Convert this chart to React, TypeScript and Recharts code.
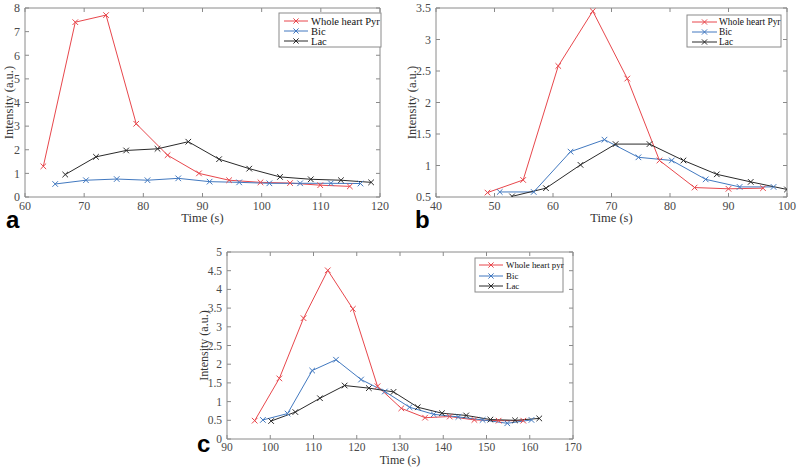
import React from 'react';
import { LineChart, Line, XAxis, YAxis, Label } from 'recharts';

// ---------- Panel a ----------
const aPyrTime = [63.1, 68.5, 73.7, 78.8, 84.1, 89.4, 94.5, 99.8, 104.8, 109.9, 114.9];
const aPyrVal = [1.3, 7.4, 7.7, 3.1, 1.77, 1.0, 0.71, 0.62, 0.59, 0.5, 0.45];
const aBicTime = [65.1, 70.3, 75.5, 80.7, 85.9, 91.2, 96.2, 101.3, 106.5, 111.7, 116.7];
const aBicVal = [0.55, 0.71, 0.76, 0.71, 0.79, 0.65, 0.62, 0.58, 0.58, 0.58, 0.57];
const aLacTime = [66.8, 72.0, 77.1, 82.4, 87.6, 92.8, 97.9, 103.1, 108.3, 113.4, 118.5];
const aLacVal = [0.95, 1.7, 1.97, 2.04, 2.34, 1.6, 1.2, 0.85, 0.75, 0.71, 0.62];
const aXTicks = [60, 70, 80, 90, 100, 110, 120];
const aYTicks = [0, 1, 2, 3, 4, 5, 6, 7, 8];
const aLegend = ['Whole heart Pyr', 'Bic', 'Lac'];

// ---------- Panel b ----------
const bPyrTime = [48.8, 54.9, 60.9, 66.8, 72.7, 78.2, 84.2, 90.0, 95.9];
const bPyrVal = [0.57, 0.77, 2.58, 3.45, 2.38, 1.08, 0.65, 0.63, 0.64];
const bBicTime = [50.9, 56.7, 63.0, 68.8, 74.6, 80.3, 86.1, 91.9, 97.7];
const bBicVal = [0.58, 0.58, 1.22, 1.41, 1.13, 1.08, 0.78, 0.66, 0.66];
const bLacTime = [53.0, 58.8, 64.7, 70.7, 76.5, 82.3, 88.0, 93.8, 100.0];
const bLacVal = [0.51, 0.64, 1.01, 1.34, 1.34, 1.08, 0.86, 0.74, 0.62];
const bXTicks = [40, 50, 60, 70, 80, 90, 100];
const bYTicks = [0.5, 1, 1.5, 2, 2.5, 3, 3.5];
const bLegend = ['Whole heart Pyr', 'Bic', 'Lac'];

// ---------- Panel c ----------
const cPyrTime = [96.4, 102.1, 107.7, 113.3, 119.1, 124.8, 130.3, 135.8, 141.5, 147.2, 152.8, 158.5];
const cPyrVal = [0.49, 1.62, 3.23, 4.51, 3.48, 1.41, 0.82, 0.57, 0.6, 0.51, 0.49, 0.49];
const cBicTime = [98.3, 104.0, 109.7, 115.2, 121.0, 126.5, 132.2, 137.8, 143.5, 149.1, 154.8, 160.4];
const cBicVal = [0.51, 0.68, 1.83, 2.12, 1.59, 1.27, 0.85, 0.66, 0.59, 0.51, 0.42, 0.51];
const cLacTime = [100.2, 105.8, 111.5, 117.2, 122.8, 128.5, 134.1, 139.7, 145.3, 150.9, 156.6, 162.2];
const cLacVal = [0.48, 0.72, 1.09, 1.43, 1.36, 1.26, 0.85, 0.69, 0.63, 0.52, 0.5, 0.55];
const cXTicks = [90, 100, 110, 120, 130, 140, 150, 160, 170];
const cYTicks = [0, 0.5, 1, 1.5, 2, 2.5, 3, 3.5, 4, 4.5, 5];
const cLegend = ['Whole heart pyr', 'Bic', 'Lac'];

const RED = '#e8474c';
const BLUE = '#4279c0';
const BLACK = '#2a2a2a';
const AXIS = '#8a8a8a';
const TICKTEXT = '#4a4a4a';
const SERIF = '"Liberation Serif", "Times New Roman", serif';

const toPoints = (ts: number[], vs: number[]) => ts.map((t, i) => ({ t, v: vs[i] }));

const makeCross = (color: string) => (props: any) => {
  const { cx, cy, index } = props;
  if (cx == null || cy == null) return <g key={`n${index}`} />;
  const s = 2.8;
  return (
    <path
      key={`c${index}`}
      d={`M${cx - s},${cy - s}L${cx + s},${cy + s}M${cx - s},${cy + s}L${cx + s},${cy - s}`}
      stroke={color}
      strokeWidth={1}
      fill="none"
    />
  );
};

type PanelProps = {
  left: number; top: number; width: number; height: number;
  margin: { top: number; right: number; left: number; bottom: number };
  yAxisWidth: number; xAxisHeight: number;
  xDomain: [number, number]; xTicks: number[];
  yDomain: [number, number]; yTicks: number[];
  series: { data: { t: number; v: number }[]; color: string; name: string }[];
  yLabelX: number; xLabelOffset: number; fontSize: number;
};

function Panel(p: PanelProps) {
  const tickStyle = { fill: TICKTEXT, fontSize: p.fontSize, fontFamily: SERIF };
  const empty = () => '';
  // top and right axes take 1px each, so the margins are reduced by 1
  const m = { ...p.margin, top: p.margin.top - 1, right: p.margin.right - 1 };
  return (
    <div style={{ position: 'absolute', left: p.left, top: p.top, width: p.width, height: p.height }}>
      <LineChart width={p.width} height={p.height} margin={m}>
        <XAxis
          xAxisId="b" dataKey="t" type="number" domain={p.xDomain} ticks={p.xTicks}
          allowDataOverflow orientation="bottom" height={p.xAxisHeight}
          stroke={AXIS} tickSize={-4} tickMargin={8} tick={tickStyle} interval={0}
        >
          <Label
            content={(lp: any) => {
              const vb = lp.viewBox || {};
              return (
                <text x={vb.x + vb.width / 2} y={vb.y + p.xLabelOffset} textAnchor="middle"
                  dominantBaseline="central" fontFamily={SERIF} fontSize={p.fontSize + 0.5} fill="#333">
                  Time (s)
                </text>
              );
            }}
          />
        </XAxis>
        <XAxis
          xAxisId="t" dataKey="t" type="number" domain={p.xDomain} ticks={p.xTicks}
          allowDataOverflow orientation="top" height={1}
          stroke={AXIS} tickSize={-4} tickMargin={0} tickFormatter={empty} interval={0}
        />
        <YAxis
          yAxisId="l" dataKey="v" type="number" domain={p.yDomain} ticks={p.yTicks}
          allowDataOverflow orientation="left" width={p.yAxisWidth}
          stroke={AXIS} tickSize={-4} tickMargin={9} tick={tickStyle} interval={0}
        >
          <Label
            content={(lp: any) => {
              const vb = lp.viewBox || {};
              const cy = vb.y + vb.height / 2;
              return (
                <text x={p.yLabelX} y={cy} textAnchor="middle" dominantBaseline="central"
                  transform={`rotate(-90 ${p.yLabelX} ${cy})`}
                  fontFamily={SERIF} fontSize={p.fontSize + 0.5} fill="#333">
                  Intensity (a.u.)
                </text>
              );
            }}
          />
        </YAxis>
        <YAxis
          yAxisId="r" dataKey="v" type="number" domain={p.yDomain} ticks={p.yTicks}
          allowDataOverflow orientation="right" width={1}
          stroke={AXIS} tickSize={-4} tickMargin={0} tickFormatter={empty} interval={0}
        />
        {/* invisible series that only anchors the mirrored top/right box axes */}
        <Line
          xAxisId="t"
          yAxisId="r"
          data={p.series[0].data}
          dataKey="v"
          stroke="none"
          dot={false}
          activeDot={false}
          legendType="none"
          isAnimationActive={false}
        />
        {p.series.map((s) => (
          <Line
            key={s.name}
            xAxisId="b"
            yAxisId="l"
            data={s.data}
            dataKey="v"
            name={s.name}
            stroke={s.color}
            strokeWidth={1}
            type="linear"
            dot={makeCross(s.color)}
            activeDot={false}
            isAnimationActive={false}
          />
        ))}
      </LineChart>
    </div>
  );
}

type LegendCfg = { x: number; y: number; w: number; h: number; rows: number[]; sx1: number; sx2: number; tx: number; fs: number; labels: string[] };

function LegendBox({ cfg }: { cfg: LegendCfg }) {
  const colors = [RED, BLUE, BLACK];
  const mid = (cfg.sx1 + cfg.sx2) / 2;
  const s = 2.6;
  return (
    <g>
      <rect x={cfg.x} y={cfg.y} width={cfg.w} height={cfg.h} fill="#fff" stroke={AXIS} strokeWidth={1} />
      {cfg.labels.map((lab, i) => (
        <g key={lab}>
          <line x1={cfg.sx1} x2={cfg.sx2} y1={cfg.rows[i]} y2={cfg.rows[i]} stroke={colors[i]} strokeWidth={1} />
          <path d={`M${mid - s},${cfg.rows[i] - s}L${mid + s},${cfg.rows[i] + s}M${mid - s},${cfg.rows[i] + s}L${mid + s},${cfg.rows[i] - s}`} stroke={colors[i]} strokeWidth={1} />
          <text x={cfg.tx} y={cfg.rows[i]} dominantBaseline="central" fontFamily={SERIF} fontSize={cfg.fs} fill="#111">{lab}</text>
        </g>
      ))}
    </g>
  );
}

export default function App() {
  const aSeries = [
    { data: toPoints(aPyrTime, aPyrVal), color: RED, name: aLegend[0] },
    { data: toPoints(aBicTime, aBicVal), color: BLUE, name: aLegend[1] },
    { data: toPoints(aLacTime, aLacVal), color: BLACK, name: aLegend[2] },
  ];
  const bSeries = [
    { data: toPoints(bPyrTime, bPyrVal), color: RED, name: bLegend[0] },
    { data: toPoints(bBicTime, bBicVal), color: BLUE, name: bLegend[1] },
    { data: toPoints(bLacTime, bLacVal), color: BLACK, name: bLegend[2] },
  ];
  const cSeries = [
    { data: toPoints(cPyrTime, cPyrVal), color: RED, name: cLegend[0] },
    { data: toPoints(cBicTime, cBicVal), color: BLUE, name: cLegend[1] },
    { data: toPoints(cLacTime, cLacVal), color: BLACK, name: cLegend[2] },
  ];
  return (
    <div style={{ position: 'absolute', left: 0, top: 0, width: 800, height: 468, background: '#fff', overflow: 'hidden' }}>
      <Panel left={0} top={0} width={392} height={235}
        margin={{ top: 8, right: 12, left: 0, bottom: 0 }} yAxisWidth={25} xAxisHeight={38}
        xDomain={[60, 120]} xTicks={aXTicks} yDomain={[0, 8]} yTicks={aYTicks}
        series={aSeries} yLabelX={9} xLabelOffset={21} fontSize={12} />
      <Panel left={400} top={0} width={400} height={235}
        margin={{ top: 8, right: 13, left: 0, bottom: 0 }} yAxisWidth={36} xAxisHeight={38}
        xDomain={[40, 100]} xTicks={bXTicks} yDomain={[0.5, 3.5]} yTicks={bYTicks}
        series={bSeries} yLabelX={12} xLabelOffset={21} fontSize={12} />
      <Panel left={190} top={244} width={400} height={224}
        margin={{ top: 8, right: 17, left: 0, bottom: 0 }} yAxisWidth={37} xAxisHeight={29}
        xDomain={[90, 170]} xTicks={cXTicks} yDomain={[0, 5]} yTicks={cYTicks}
        series={cSeries} yLabelX={14} xLabelOffset={21} fontSize={11.5} />
      <svg width={800} height={468} style={{ position: 'absolute', left: 0, top: 0, pointerEvents: 'none' }}>
        <LegendBox cfg={{ x: 279, y: 13, w: 102, h: 34, rows: [21, 31, 41], sx1: 284, sx2: 308, tx: 311, fs: 10.5, labels: aLegend }} />
        <LegendBox cfg={{ x: 687, y: 15, w: 94, h: 32, rows: [22, 32, 42], sx1: 692, sx2: 717, tx: 719, fs: 9.4, labels: bLegend }} />
        <LegendBox cfg={{ x: 475, y: 258, w: 88, h: 34, rows: [265, 276, 286], sx1: 479, sx2: 503, tx: 506, fs: 8.9, labels: cLegend }} />
        <text x={6} y={228} fontFamily='"Liberation Sans", Arial, sans-serif' fontWeight="bold" fontSize={24} fill="#000">a</text>
        <text x={415} y={228} fontFamily='"Liberation Sans", Arial, sans-serif' fontWeight="bold" fontSize={24} fill="#000">b</text>
        <text x={197} y={452} fontFamily='"Liberation Sans", Arial, sans-serif' fontWeight="bold" fontSize={24} fill="#000">c</text>
      </svg>
    </div>
  );
}
